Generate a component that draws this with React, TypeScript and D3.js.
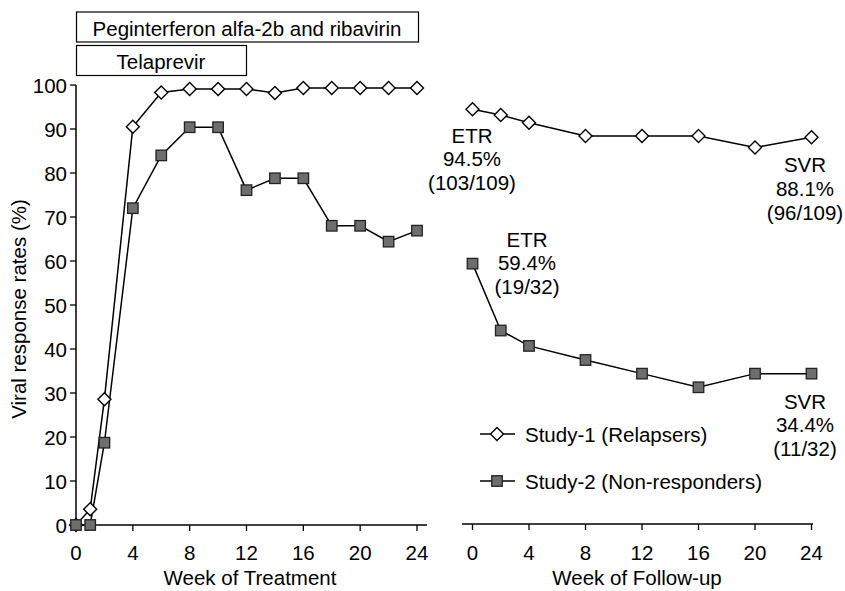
import * as d3 from 'd3'

const weeksTreatment = [0, 1, 2, 4, 6, 8, 10, 12, 14, 16, 18, 20, 22, 24]
const study1Treatment = [0, 3.6, 28.6, 90.5, 98.3, 99.1, 99.1, 99.1, 98.2, 99.3, 99.3, 99.3, 99.3, 99.3]
const study2Treatment = [0, 0, 18.7, 72, 84, 90.4, 90.4, 76.1, 78.8, 78.8, 68, 68, 64.4, 66.9]

const weeksFollow = [0, 2, 4, 8, 12, 16, 20, 24]
const study1Follow = [94.5, 93.2, 91.4, 88.4, 88.4, 88.4, 85.8, 88.1]
const study2Follow = [59.4, 44.2, 40.7, 37.5, 34.4, 31.3, 34.4, 34.4]

const xTicks = [0, 4, 8, 12, 16, 20, 24]
const yTicks = [0, 10, 20, 30, 40, 50, 60, 70, 80, 90, 100]

const seriesNames = ['Study-1 (Relapsers)', 'Study-2 (Non-responders)']
const etr1 = ['ETR', '94.5%', '(103/109)']
const svr1 = ['SVR', '88.1%', '(96/109)']
const etr2 = ['ETR', '59.4%', '(19/32)']
const svr2 = ['SVR', '34.4%', '(11/32)']

const FONT = '"Liberation Sans", Arial, sans-serif'

function Diamond({ x, y }: { x: number; y: number }) {
  const r = 6.5
  return (
    <path d={`M${x},${y - r}L${x + r},${y}L${x},${y + r}L${x - r},${y}Z`}
      fill="white" stroke="black" strokeWidth={1.4} />
  )
}

function Square({ x, y }: { x: number; y: number }) {
  const s = 10.5
  return <rect x={x - s / 2} y={y - s / 2} width={s} height={s} fill="#6e6e6e" stroke="#222" strokeWidth={1.3} />
}

function TextBlock({ x, y, lines, dy }: { x: number; y: number; lines: string[]; dy: number }) {
  return (
    <g>
      {lines.map((t, i) => (
        <text key={i} x={x} y={y + i * dy} textAnchor="middle" dominantBaseline="central">{t}</text>
      ))}
    </g>
  )
}

export default function App() {
  const yScale = d3.scaleLinear().domain([0, 100]).range([525, 85])
  const xLeft = d3.scaleLinear().domain([0, 24]).range([76, 417])
  const xRight = d3.scaleLinear().domain([0, 24]).range([472.5, 811.5])

  const lineLeft = d3.line<number>().x((_, i) => xLeft(weeksTreatment[i])).y(d => yScale(d))
  const lineRight = d3.line<number>().x((_, i) => xRight(weeksFollow[i])).y(d => yScale(d))

  return (
    <svg width={845} height={591} style={{ position: 'absolute', left: 0, top: 0, background: 'white' }}
      fontFamily={FONT} fontSize={20.5} fill="black">
      {/* treatment boxes */}
      <rect x={76.5} y={12} width={342} height={30} fill="white" stroke="black" strokeWidth={1.2} />
      <text x={247} y={28} textAnchor="middle" dominantBaseline="central">Peginterferon alfa-2b and ribavirin</text>
      <rect x={76.5} y={45.5} width={170} height={30} fill="white" stroke="black" strokeWidth={1.2} />
      <text x={161} y={61} textAnchor="middle" dominantBaseline="central">Telaprevir</text>

      {/* y axis */}
      <line x1={76} x2={76} y1={yScale(100)} y2={yScale(0)} stroke="black" strokeWidth={1.5} />
      {yTicks.map(t => (
        <g key={t}>
          <line x1={70} x2={76} y1={yScale(t)} y2={yScale(t)} stroke="black" strokeWidth={1.3} />
          <text x={67} y={yScale(t)} textAnchor="end" dominantBaseline="central">{t}</text>
        </g>
      ))}
      <text transform={`translate(18,${(yScale(0) + yScale(100)) / 2 + 4}) rotate(-90)`} textAnchor="middle"
        dominantBaseline="central">Viral response rates (%)</text>

      {/* left x axis */}
      <line x1={76} x2={427} y1={yScale(0)} y2={yScale(0)} stroke="black" strokeWidth={1.5} />
      {xTicks.map(t => (
        <g key={t}>
          <line x1={xLeft(t)} x2={xLeft(t)} y1={yScale(0)} y2={yScale(0) + 6} stroke="black" strokeWidth={1.3} />
          <text x={xLeft(t)} y={552} textAnchor="middle" dominantBaseline="central">{t}</text>
        </g>
      ))}
      <text x={250} y={577} textAnchor="middle" dominantBaseline="central">Week of Treatment</text>

      {/* right x axis */}
      <line x1={462} x2={813} y1={yScale(0) - 1} y2={yScale(0) - 1} stroke="black" strokeWidth={1.5} />
      {xTicks.map(t => (
        <g key={t}>
          <line x1={xRight(t)} x2={xRight(t)} y1={yScale(0) - 1} y2={yScale(0) + 5} stroke="black" strokeWidth={1.3} />
          <text x={xRight(t)} y={552} textAnchor="middle" dominantBaseline="central">{t}</text>
        </g>
      ))}
      <text x={637} y={577} textAnchor="middle" dominantBaseline="central">Week of Follow-up</text>

      {/* left series */}
      <path d={lineLeft(study2Treatment) || ''} fill="none" stroke="black" strokeWidth={1.5} />
      <path d={lineLeft(study1Treatment) || ''} fill="none" stroke="black" strokeWidth={1.5} />
      {study1Treatment.map((v, i) => <Diamond key={'d' + i} x={xLeft(weeksTreatment[i])} y={yScale(v)} />)}
      {study2Treatment.map((v, i) => <Square key={'s' + i} x={xLeft(weeksTreatment[i])} y={yScale(v)} />)}

      {/* right series */}
      <path d={lineRight(study1Follow) || ''} fill="none" stroke="black" strokeWidth={1.5} />
      <path d={lineRight(study2Follow) || ''} fill="none" stroke="black" strokeWidth={1.5} />
      {study1Follow.map((v, i) => <Diamond key={'rd' + i} x={xRight(weeksFollow[i])} y={yScale(v)} />)}
      {study2Follow.map((v, i) => <Square key={'rs' + i} x={xRight(weeksFollow[i])} y={yScale(v)} />)}

      {/* annotations */}
      <TextBlock x={472} y={135} lines={etr1} dy={23.5} />
      <TextBlock x={805} y={164} lines={svr1} dy={24} />
      <TextBlock x={527} y={239} lines={etr2} dy={23.5} />
      <TextBlock x={805} y={401} lines={svr2} dy={23.5} />

      {/* legend */}
      <line x1={480} x2={515} y1={434} y2={434} stroke="black" strokeWidth={1.5} />
      <Diamond x={497} y={434} />
      <text x={525} y={434} dominantBaseline="central">{seriesNames[0]}</text>
      <line x1={480} x2={515} y1={481} y2={481} stroke="black" strokeWidth={1.5} />
      <Square x={497} y={481} />
      <text x={525} y={481} dominantBaseline="central">{seriesNames[1]}</text>
    </svg>
  )
}
